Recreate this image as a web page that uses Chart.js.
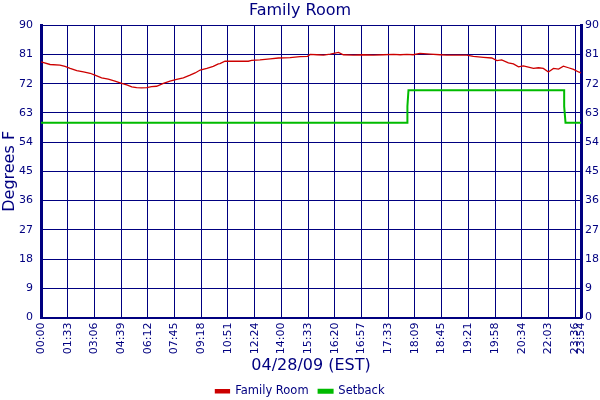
<!DOCTYPE html>
<html>
<head>
<meta charset="utf-8">
<script src="https://cdn.jsdelivr.net/npm/chart.js@4"></script>
<style>
  html, body { margin: 0; padding: 0; background: #fff; }
  #wrap { width: 600px; height: 400px; }
</style>
</head>
<body>
<div id="wrap"><canvas id="chart"></canvas></div>
<script>
// x positions are sample positions (one tick label every 1.0), times are the tick labels
const tickLabels = ["00:00", "01:33", "03:06", "04:39", "06:12", "07:45", "09:18", "10:51", "12:24", "14:00",
  "15:33", "16:20", "16:57", "17:33", "18:09", "18:45", "19:21", "19:58", "20:34", "22:03", "23:36", "23:54"];
const tickPos = [0, 1, 2, 3, 4, 5, 6, 7, 8, 9, 10, 11, 12, 13, 14, 15, 16, 17, 18, 19, 20, 20.22];

// Family Room temperature
const roomX = [0, 0.34, 0.71, 0.90, 1.09, 1.34, 1.59, 1.84, 2.02, 2.27, 2.52, 2.77, 3.02, 3.21, 3.40, 3.58, 3.77, 3.96,
  4.14, 4.33, 4.58, 4.83, 5.08, 5.33, 5.58, 5.77, 5.96, 6.21, 6.45, 6.64, 6.70, 6.89, 7.39, 7.76, 7.89, 8.20, 8.58,
  8.89, 9.33, 9.70, 9.98, 10.08, 10.33, 10.58, 10.83, 11.14, 11.32, 11.70, 12.07, 12.45, 12.82, 13.20, 13.45, 13.70,
  13.94, 14.19, 14.57, 14.94, 15.19, 15.57, 15.94, 16.19, 16.57, 16.88, 17.07, 17.25, 17.50, 17.69, 17.88, 18.06,
  18.25, 18.44, 18.63, 18.81, 19.00, 19.19, 19.38, 19.56, 19.75, 19.94, 20.13, 20.22];
const roomF = [78.7, 77.9, 77.7, 77.3, 76.7, 76.0, 75.6, 75.2, 74.6, 73.8, 73.4, 72.8, 72.1, 71.6, 71.0, 70.8, 70.7, 70.8,
  71.1, 71.2, 72.1, 72.8, 73.3, 73.8, 74.6, 75.3, 76.2, 76.7, 77.3, 78.1, 78.2, 78.9, 78.9, 78.9, 79.2, 79.3, 79.6,
  79.9, 80.0, 80.3, 80.4, 81.0, 80.9, 80.8, 81.1, 81.6, 80.9, 80.8, 80.9, 80.8, 80.9, 81.0, 80.9, 81.0,
  80.9, 81.3, 81.1, 80.9, 80.8, 80.8, 80.8, 80.4, 80.1, 79.9, 79.1, 79.3, 78.4, 78.1, 77.2, 77.5,
  77.1, 76.7, 76.9, 76.7, 75.6, 76.7, 76.5, 77.4, 76.9, 76.4, 75.6, 75.3];

// Setback
const setX = [0, 13.72, 13.72, 13.76, 19.59, 19.59, 19.64, 20.22];
const setF = [60, 60, 65, 70, 70, 65, 60, 60];

const navy = "#000080";
const font = "'DejaVu Sans', Verdana, sans-serif";

const pts = (xs, ys) => xs.map((x, i) => ({ x: x, y: ys[i] }));

const yScale = (pos) => ({
  type: "linear",
  position: pos,
  min: 0,
  max: 90,
  ticks: { stepSize: 9, color: navy, font: { family: font, size: 11 }, padding: pos === "left" ? 8 : 4 },
  grid: { display: pos === "left", color: navy, lineWidth: 1, drawTicks: false },
  border: { color: navy, width: 3 },
  title: pos === "left"
    ? { display: true, text: "Degrees F", color: navy, font: { family: font, size: 16 }, padding: 0 }
    : { display: false },
  afterFit: (s) => { s.width = pos === "left" ? 41 : 19; }
});

new Chart(document.getElementById("chart"), {
  type: "line",
  data: {
    datasets: [
      { label: "Family Room", data: pts(roomX, roomF), borderColor: "#cc0000", backgroundColor: "#cc0000",
        borderWidth: 1.3, pointRadius: 0, tension: 0, yAxisID: "y" },
      { label: "Setback", data: pts(setX, setF), borderColor: "#00bb00", backgroundColor: "#00bb00",
        borderWidth: 2, pointRadius: 0, tension: 0, yAxisID: "y" }
    ]
  },
  options: {
    responsive: true,
    maintainAspectRatio: false,
    animation: false,
    layout: { padding: { top: 0, left: 0, right: 0, bottom: -7 } },
    plugins: {
      title: { display: true, text: "Family Room", color: navy, font: { family: font, size: 16, weight: "normal" },
        padding: { top: 1, bottom: 5 } },
      legend: {
        position: "bottom",
        labels: { color: navy, font: { family: font, size: 11.5 }, boxWidth: 14, boxHeight: 3, padding: 10 }
      },
      tooltip: { enabled: false }
    },
    scales: {
      x: {
        type: "linear",
        min: 0,
        max: 20.22,
        afterBuildTicks: (s) => { s.ticks = tickPos.map((v) => ({ value: v })); },
        afterFit: (s) => { s.height = 58; },
        ticks: {
          autoSkip: false,
          minRotation: 90,
          maxRotation: 90,
          padding: 5,
          color: navy,
          font: { family: font, size: 11 },
          callback: (v, i) => tickLabels[i]
        },
        grid: { color: navy, lineWidth: 1, drawTicks: false },
        border: { color: navy, width: 2 },
        title: { display: true, text: "04/28/09 (EST)", color: navy, font: { family: font, size: 16 }, padding: { top: 0, bottom: 0 } }
      },
      y: yScale("left"),
      y2: yScale("right")
    }
  }
});
</script>
</body>
</html>
